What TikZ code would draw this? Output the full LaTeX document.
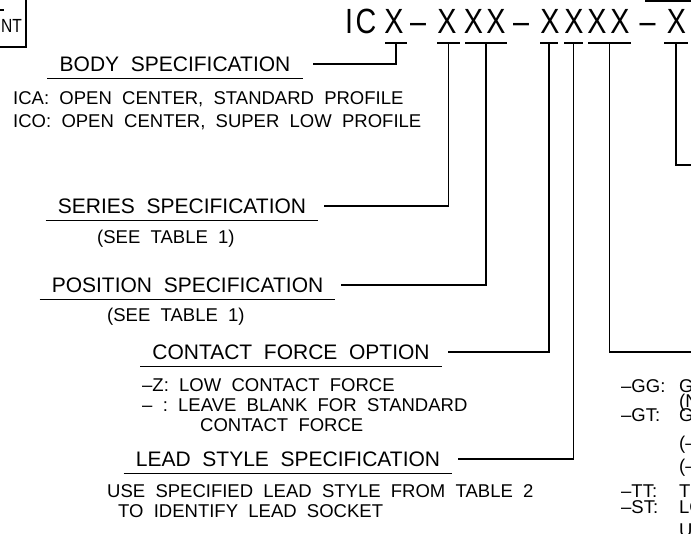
\documentclass[tikz,border=0pt]{standalone}
\usepackage{fontspec}
\setmainfont[WordSpace=2]{Liberation Sans}
\newfontfamily\codefont[FakeStretch=0.82]{Liberation Sans}
\usetikzlibrary{calc}

\begin{document}
\begin{tikzpicture}[
	x=1pt, y=-1pt,
	wire/.style={line width=1.1pt},
	glyph/.style={inner sep=0pt, anchor=base, font=\codefont\fontsize{35}{40}\selectfont},
	heading/.style={inner xsep=12pt, inner ysep=7pt, text height=15pt, text depth=0pt, font=\fontsize{21}{25}\selectfont},
	note/.style={inner sep=0pt, anchor=base west, font=\fontsize{18.5}{22}\selectfont},
]
	\useasboundingbox (0, 0) rectangle (691, 533);

	% Part number, one glyph at a time
	\foreach \g/\x [count=\i] in {I/349, C/366, X/394, \textendash/418, X/447, X/473.5, X/496, \textendash/521, X/550, X/574, X/597, X/620, \textendash/647.5, X/676.5} {
		\node[glyph] (g\i) at (\x, 33) {\g};
	}

	% A tick under each field
	\foreach \t/\x/\w in {body/396/11, series/448.5/11.5, pos/486/21, force/549/9, lead/573.5/9.5, plate/609.5/21.5, extra/676/12} {
		\coordinate (t\t) at (\x, 43);
		\draw[wire] ($(t\t) + (-\w, 0)$) -- ($(t\t) + (\w, 0)$);
	}

	% Headings, underlined
	\node[heading] (body) at (175, 64) {BODY SPECIFICATION};
	\node[heading] (series) at (182, 206) {SERIES SPECIFICATION};
	\node[heading] (pos) at (187.5, 285) {POSITION SPECIFICATION};
	\node[heading] (force) at (291, 352) {CONTACT FORCE OPTION};
	\node[heading] (lead) at (288, 459) {LEAD STYLE SPECIFICATION};
	\foreach \n in {body, series, pos, force, lead} {
		\draw[wire] (\n.south west) -- (\n.south east);
	}

	% Leaders from the ticks to the headings
	\draw[wire] (tbody) |- ([xshift=10pt]body.east);
	\foreach \n in {series, pos, force, lead} {
		\draw[wire] (t\n) |- ([xshift=6pt]\n.east);
	}
	\coordinate (plate) at (691, 352);
	\coordinate (extra) at (691, 165);
	\draw[wire] (tplate) |- (plate);
	\draw[wire] (textra) |- (extra);

	% Notes
	\node[note] (ica) at (13, 104.6) {ICA: OPEN CENTER, STANDARD PROFILE};
	\node[note] (ico) at (13, 127.6) {ICO: OPEN CENTER, SUPER LOW PROFILE};
	\node[note] (seeser) at (97, 243.6) {(SEE TABLE 1)};
	\node[note] (seepos) at (107, 321.6) {(SEE TABLE 1)};
	\node[note] (low) at (142, 391.6) {\textendash Z:~LOW CONTACT FORCE};
	\node[note] (blank) at (142, 411.6) {\textendash~:~LEAVE BLANK FOR STANDARD};
	\node[note] (blank2) at (200, 431.6) {CONTACT FORCE};
	\node[note] (use) at (107, 497.6) {USE SPECIFIED LEAD STYLE FROM TABLE 2};
	\node[note] (use2) at (118, 517.6) {TO IDENTIFY LEAD SOCKET};

	% Plating codes, cut by the right edge
	\foreach \k/\y/\c in {gg/392.6/GG, gt/421.6/GT, tt/497.6/TT, st/513.6/ST} {
		\node[note] (\k) at (621, \y) {\textendash\c:};
	}
	\foreach \s/\y [count=\i] in {G/392.6, {(N}/407.6, G/421.6, {(\textendash}/449.6, {(\textendash}/472.6, TI/497.6, LO/513.6, U/536.6} {
		\node[note] (p\i) at (679, \y) {\s};
	}

	% Frame pieces at the edges
	\draw[wire] (0, 47) -- (26, 47) -- (26, 0);
	\node[inner sep=0pt, anchor=base east, font=\codefont\fontsize{19}{22}\selectfont] (tag) at (22, 32) {NT};
	\draw[wire] (0, 10) -- (4, 10);
	\draw[wire] (645, 1) -- (691, 1);
\end{tikzpicture}
\end{document}
